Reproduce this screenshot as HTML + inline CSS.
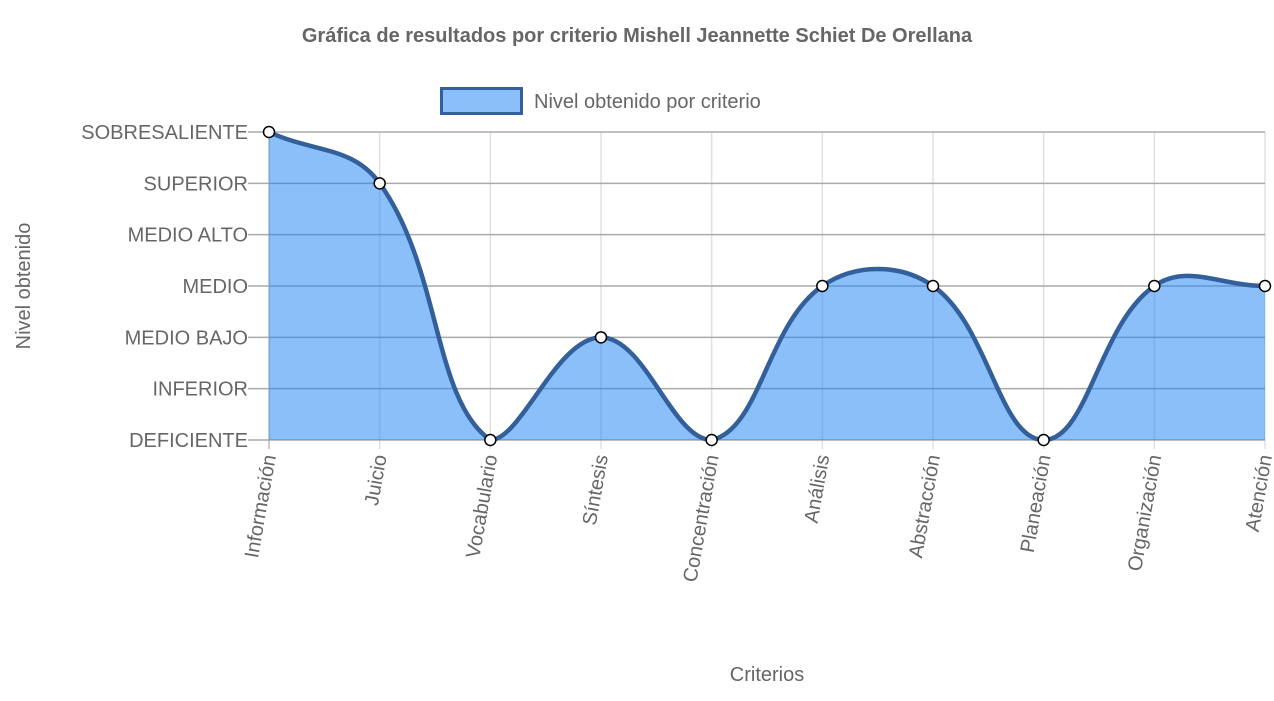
<!DOCTYPE html>
<html><head><meta charset="utf-8">
<style>
html,body{margin:0;padding:0;background:#fff;}
svg text{font-family:"Liberation Sans",Arial,sans-serif;fill:#666;}
</style></head>
<body>
<svg id="chart" width="1274" height="696" viewBox="0 0 1274 696" xmlns="http://www.w3.org/2000/svg">
<text x="637" y="42" text-anchor="middle" font-size="20" font-weight="bold">Gráfica de resultados por criterio Mishell Jeannette Schiet De Orellana</text>
<g>
<rect x="441.5" y="88.5" width="80" height="25" fill="rgba(33,133,245,0.52)" stroke="#33609a" stroke-width="3"/>
<text x="534" y="108" font-size="20">Nivel obtenido por criterio</text>
</g>
<g id="grid"></g>
<g id="series"></g>
<g id="yticks"></g>
<g id="xticks"></g>
<text transform="translate(30,286) rotate(-90)" text-anchor="middle" font-size="20">Nivel obtenido</text>
<text x="767" y="681" text-anchor="middle" font-size="20">Criterios</text>
</svg>
<script>
const categories=["Información","Juicio","Vocabulario","Síntesis","Concentración","Análisis","Abstracción","Planeación","Organización","Atención"];
const values=[6,5,0,2,0,3,3,0,3,3];
const yTickLabels=["DEFICIENTE","INFERIOR","MEDIO BAJO","MEDIO","MEDIO ALTO","SUPERIOR","SOBRESALIENTE"];

const NS="http://www.w3.org/2000/svg";
const L=269,R=1265,T=132,B=440;
const xS=i=>L+i*(R-L)/(categories.length-1);
const yS=v=>B-v*(B-T)/(yTickLabels.length-1);
function mk(tag,attrs,parent){const e=document.createElementNS(NS,tag);for(const k in attrs)e.setAttribute(k,attrs[k]);parent.appendChild(e);return e;}
const grid=document.getElementById('grid'),yt=document.getElementById('yticks'),xt=document.getElementById('xticks'),ser=document.getElementById('series');

categories.forEach((c,i)=>{
  const x=xS(i);
  const gl=mk('line',{x1:x,x2:x,y1:T,y2:B+9,stroke:i===0?'#bbb':'#e0e0e0','stroke-width':1.5},grid);
  
  
  const t=mk('text',{transform:`translate(${x+7},${B+16}) rotate(-80)`,'text-anchor':'end','font-size':20},xt);
  t.textContent=c;
  
  
});
yTickLabels.forEach((lab,v)=>{
  const y=yS(v);
  const gl=mk('line',{x1:L-21,x2:R,y1:y,y2:y,stroke:'#aaa','stroke-width':1.5},grid);
  
  
  const t=mk('text',{x:L-21,y:y+7,'text-anchor':'end','font-size':20},yt);
  t.textContent=lab;
  
  
});

const pts=values.map((v,i)=>({x:xS(i),y:yS(v)}));
const tension=0.4;
const cps=pts.map((p,i)=>{
  const pr=pts[i-1]||p,nx=pts[i+1]||p;
  const d01=Math.hypot(p.x-pr.x,p.y-pr.y),d12=Math.hypot(nx.x-p.x,nx.y-p.y);
  let s01=d01/(d01+d12),s12=d12/(d01+d12);
  if(isNaN(s01))s01=0;if(isNaN(s12))s12=0;
  const fa=tension*s01,fb=tension*s12;
  const cl=v=>Math.max(T,Math.min(B,v));
  return {px:p.x-fa*(nx.x-pr.x),py:cl(p.y-fa*(nx.y-pr.y)),nx:p.x+fb*(nx.x-pr.x),ny:cl(p.y+fb*(nx.y-pr.y))};
});
let d=`M${pts[0].x},${pts[0].y}`;
for(let i=1;i<pts.length;i++){d+=` C${cps[i-1].nx},${cps[i-1].ny} ${cps[i].px},${cps[i].py} ${pts[i].x},${pts[i].y}`;}
const area=mk('path',{d:d+` L${pts[pts.length-1].x},${B} L${pts[0].x},${B} Z`,fill:'rgba(33,133,245,0.52)',stroke:'none'},ser);


const line=mk('path',{d:d,fill:'none',stroke:'#33609a','stroke-width':4.5},ser);


pts.forEach((p,i)=>{
  const c=mk('circle',{cx:p.x,cy:p.y,r:5.5,fill:'#fff',stroke:'#000','stroke-width':1.5},ser);
  
  
});
</script>
</body></html>
